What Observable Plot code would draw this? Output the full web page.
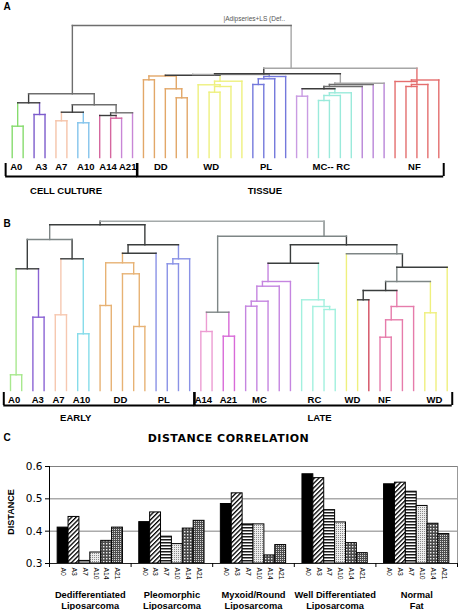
<!DOCTYPE html>
<html><head><meta charset="utf-8">
<script src="https://cdn.jsdelivr.net/npm/d3@7"></script>
<script src="https://cdn.jsdelivr.net/npm/@observablehq/plot@0.6"></script>
<style>body{margin:0;background:#fff;} #root svg{display:block;}</style>
</head><body><div id="root"></div>
<script>
// ---------- Panel A data ----------
const leafGroupsA = ["A0","A0","A3","A3","A7","A7","A10","A10","A14","A14","A21","A21",
  "DD","DD","DD","DD","DD","WD","WD","WD","WD","WD","PL","PL","PL","PL",
  "MC","MC","RC","RC","RC","RC","MCx","MCx","MCx","NF","NF","NF","NF","NF"];
const paletteA = {A0:"#86dc6e",A3:"#7d5ccc",A7:"#f5c4aa",A10:"#84c4ec",A14:"#d5679f",A21:"#c886d6",
  DD:"#e2a768",WD:"#eef07e",PL:"#7479dc",MC:"#c99be2",RC:"#9aeadb",MCx:"#b985d8",NF:"#e46e6e",
  dark:"#3c3c3c",mid:"#6e6e6e",light:"#a6a6a6"};
// node = [height, colour key, left, right]; leaf = leaf index
const treeA = [132,"mid",
  [63.7,"mid",
    [54.7,"dark",[31.3,"A0",0,1],[43,"A3",2,3]],
    [52.7,"mid",
      [45.3,"dark",[36.7,"A7",4,5],[34.7,"A10",6,7]],
      [44.7,"mid",[42,"dark",8,[39.3,"A14",9,10]],11]]],
  [89.3,"light",
    [83.7,"dark",
      [83,"light",
        [82.3,"dark",
          [81.5,"DD",[77.7,"DD",12,13],[68.7,"DD",14,[59.7,"DD",15,16]]],
          [76.3,"WD",[72.7,"WD",17,[71,"WD",[65.3,"WD",18,19],20]],21]],
        [81,"PL",[78.7,"PL",[73,"PL",22,23],24],25]],
      [74.3,"light",[73,"mid",[71,"mid",
          [68.7,"dark",[61.3,"MC",26,27],[64.7,"RC",[62,"RC",[57,"RC",28,29],30],31]],
          32],33],34]],
    [77.5,"NF",[76,"NF",35,[73,"NF",[71,"NF",36,37],38]],39]]];
const leafLabelsA = ["A0","A3","A7","A10","A14","A21","DD","WD","PL","MC-- RC","NF"];
const leafLabelPosA = [0.37,2.66,4.49,6.73,8.76,10.56,13.58,18.2,23.2,29.17,36.77];
const bracketsA = [{label:"CELL CULTURE",from:0,to:11,at:4.92},{label:"TISSUE",from:12,to:39,at:23.1}];

// ---------- Panel B data ----------
const leafGroupsB = ["A0","A0","A3","A3","A7","A7","A10","A10","DD","DD","DD","DD","DD",
  "PL","PL","PL","PL","A14","A14","A21","A21","MC","MC","MC","MC","MC",
  "RC","RC","RC","RC","WD","WD","NFr","NF","NF","NF","NF","WD","WD","WD"];
const paletteB = {A0:"#a8e88e",A3:"#8b63d4",A7:"#f6c8b0",A10:"#86dcea",DD:"#e7b274",PL:"#8a92e6",
  A14:"#ec9cd2",A21:"#d86ad8",MC:"#c585e0",RC:"#a2f0de",WD:"#eff07e",NFr:"#d24c60",NF:"#e67cab",
  dark:"#3a3d3d",mid:"#7e8686",light:"#a4aaaa"};
const treeB = [169.3,"light",
  [165.7,"dark",
    [151,"mid",
      [121.7,"dark",[15.7,"A0",0,1],[73.3,"A3",2,3]],
      [131.7,"dark",[75.7,"A7",4,5],[56.7,"A10",6,7]]],
    [145.7,"dark",
      [137.3,"dark",
        [127.7,"DD",[85,"DD",8,9],[116.7,"DD",10,[64,"DD",11,12]]],
        13],
      [131.7,"PL",[126.7,"PL",14,15],16]]],
  [154.3,"mid",
    [78.3,"mid",[59,"A14",17,18],[54.3,"A21",19,20]],
    [145.7,"dark",
      [127.3,"dark",
        [109,"MC",[104.3,"MC",[89.3,"MC",[84.3,"MC",21,22],23],24],25],
        [90.7,"RC",26,[84,"RC",27,[81,"RC",28,29]]]],
      [136.7,"mid",30,
        [123.3,"dark",
          [109,"mid",
            [100,"dark",[90.7,"dark",31,32],[84,"NF",[70.7,"NF",[53.3,"NF",33,34],35],36]],
            [77.7,"WD",37,38]],
          39]]]]];
const leafLabelsB = ["A0","A3","A7","A10","DD","PL","A14","A21","MC","RC","WD","NF","WD"];
const leafLabelPosB = [0.33,2.43,4.29,6.34,9.82,13.69,17.23,19.46,22.23,27.14,30.54,33.39,37.86];
const bracketsB = [{label:"EARLY",from:0,to:16,at:5.83},{label:"LATE",from:17,to:39,at:27.6}];

// ---------- Panel C data ----------
const groupsC = ["Dedifferentiated\nLiposarcoma","Pleomorphic\nLiposarcoma","Myxoid/Round\nLiposarcoma","Well Differentiated\nLiposarcoma","Normal\nFat"];
const seriesC = ["A0","A3","A7","A10","A14","A21"];
const valuesDD = [0.411,0.444,0.308,0.334,0.370,0.411];
const valuesPL = [0.428,0.458,0.383,0.360,0.408,0.432];
const valuesMR = [0.484,0.517,0.421,0.421,0.325,0.357];
const valuesWD = [0.576,0.564,0.465,0.427,0.363,0.332];
const valuesNF = [0.545,0.550,0.522,0.478,0.423,0.391];
const yTicksC = [0.3,0.4,0.5,0.6];

// ---------- helpers ----------
const FONT = "'Liberation Sans', Arial, sans-serif";
function segments(tree, groups, palette) {
  const segs = [];
  function walk(node) {
    if (typeof node === "number") return {x: node, sum: node, n: 1, h: 0, color: palette[groups[node]]};
    const [h, key, a, b] = node;
    const L = walk(a), R = walk(b);
    const color = palette[key];
    segs.push({x1: L.x, x2: L.x, y1: L.h, y2: h, color: L.color});
    segs.push({x1: R.x, x2: R.x, y1: R.h, y2: h, color: R.color});
    segs.push({x1: L.x, x2: R.x, y1: h, y2: h, color});
    const sum = L.sum + R.sum, n = L.n + R.n;
    return {x: sum / n, sum, n, h, color};
  }
  walk(tree);
  return segs;
}

function dendro({tree, groups, palette, labels, labelPos, brackets, height, xRange, yRange, yTop,
                 letter, letterDy, bracketY, bracketTop, labelDy, titleY, extra = []}) {
  const segs = segments(tree, groups, palette);
  const ends = brackets.flatMap(d => [d.from - 0.6, d.to + 0.45]);
  return Plot.plot({
    width: 458, height, margin: 0,
    x: {domain: [0, groups.length - 1], range: xRange, axis: null},
    y: {domain: [0, yTop], range: yRange, axis: null},
    color: {type: "identity"},
    style: {fontFamily: FONT, background: "white", color: "black"},
    marks: [
      Plot.link(segs, {x1: "x1", y1: "y1", x2: "x2", y2: "y2", stroke: "color", strokeWidth: 1.4, strokeLinecap: "square"}),
      Plot.text(labels, {x: (d, i) => labelPos[i], y: 0, dy: labelDy, text: d => d, fontWeight: "bold", fontSize: 9.5}),
      Plot.ruleY(brackets, {x1: d => d.from - 0.6, x2: d => d.to + 0.45, y: bracketY, stroke: "black", strokeWidth: 2}),
      Plot.ruleX(ends, {x: d => d, y1: bracketTop, y2: bracketY, stroke: "black", strokeWidth: 2}),
      Plot.text(brackets, {x: "at", y: titleY, text: "label", fontWeight: "bold", fontSize: 9.5}),
      Plot.text([letter], {frameAnchor: "top-left", dx: 3, dy: letterDy, text: d => d, fontWeight: "bold", fontSize: 10}),
      ...extra
    ]
  });
}

const root = document.getElementById("root");

const plotA = dendro({
  tree: treeA, groups: leafGroupsA, palette: paletteA, labels: leafLabelsA, labelPos: leafLabelPosA,
  brackets: bracketsA, height: 200, xRange: [11.7, 438.3], yRange: [157, 25], yTop: 132,
  letter: "A", letterDy: 2, bracketY: -19, bracketTop: -6, labelDy: 9, titleY: -33,
  extra: [Plot.text(["|Adipseries+LS (Def.."], {frameAnchor: "top-left", dx: 223, dy: 16, text: d => d, fontSize: 6.5, fill: "#555"})]
});
root.appendChild(plotA);

const plotB = dendro({
  tree: treeB, groups: leafGroupsB, palette: paletteB, labels: leafLabelsB, labelPos: leafLabelPosB,
  brackets: bracketsB, height: 225, xRange: [10, 446.7], yRange: [190, 20.7], yTop: 169.3,
  letter: "B", letterDy: 19, bracketY: -15, bracketTop: -2, labelDy: 9, titleY: -27
});
root.appendChild(plotB);

// ---------- Panel C ----------
const valuesC = [valuesDD, valuesPL, valuesMR, valuesWD, valuesNF];
const bars = groupsC.flatMap((g, gi) => seriesC.map((s, si) => ({group: g, gi, series: s, si, value: valuesC[gi][si]})));
const barW = 0.8 / seriesC.length;
const x1 = d => d.gi + 0.1 + d.si * barW;
const fills = {A0: "black", A3: "url(#pA3)", A7: "url(#pA7)", A10: "url(#pA10)", A14: "url(#pA14)", A21: "url(#pA21)"};

const plotC = Plot.plot({
  width: 458, height: 185, marginTop: 41, marginBottom: 47, marginLeft: 49, marginRight: 1,
  x: {domain: [0, groupsC.length], axis: null},
  y: {domain: [0.3, 0.6], axis: null},
  color: {type: "identity"},
  style: {fontFamily: FONT, background: "white", color: "black"},
  marks: [
    Plot.ruleY([0.4, 0.5, 0.6], {stroke: "#808080", strokeWidth: 1}),
    Plot.ruleX([groupsC.length], {stroke: "#999"}),
    Plot.rectY(bars, {x1, x2: d => x1(d) + barW, y1: 0.3, y2: "value", fill: d => fills[d.series], stroke: "black", strokeWidth: 1}),
    Plot.ruleY([0.3], {stroke: "#222"}),
    Plot.ruleX([0], {stroke: "black"}),
    Plot.axisY({ticks: yTicksC, tickFormat: d3.format(".1f"), tickSize: 4, tickPadding: 3, fontSize: 10.5, fontFamily: "'DejaVu Sans', sans-serif", label: null}),
    Plot.axisX({ticks: d3.range(groupsC.length + 1), tickSize: 4, tickFormat: () => "", label: null}),
    Plot.text(bars, {x: d => x1(d) + barW / 2, y: 0.3, dy: 4, text: "series", rotate: 90, textAnchor: "start", fontSize: 6.8}),
    Plot.text(groupsC, {x: (d, i) => i + 0.5, y: 0.3, dy: 36, text: d => d, fontWeight: "bold", fontSize: 9.3, lineHeight: 1.2}),
    Plot.text(["DISTANCE"], {frameAnchor: "left", dx: -38, dy: -3, rotate: -90, textAnchor: "middle", lineAnchor: "middle", text: d => d, fontWeight: "bold", fontSize: 9}),
    Plot.text(["DISTANCE CORRELATION"], {frameAnchor: "top", dx: -25, dy: -28, lineAnchor: "middle", textAnchor: "middle", text: d => d, fontWeight: "bold", fontSize: 11, fontFamily: "'DejaVu Sans', sans-serif"}),
    Plot.text(["C"], {frameAnchor: "top-left", dx: -46, dy: -33, text: d => d, fontWeight: "bold", fontSize: 10})
  ]
});

// fill patterns for the bars
const defs = d3.select(plotC).insert("defs", ":first-child");
function pattern(id, w, h, bg, rects, transform) {
  const p = defs.append("pattern").attr("id", id).attr("width", w).attr("height", h).attr("patternUnits", "userSpaceOnUse");
  if (transform) p.attr("patternTransform", transform);
  p.append("rect").attr("width", w).attr("height", h).attr("fill", bg);
  rects.forEach(([rx, ry, rw, rh, c]) => p.append("rect").attr("x", rx).attr("y", ry).attr("width", rw).attr("height", rh).attr("fill", c));
}
pattern("pA3", 3.2, 3.2, "white", [[0, 0, 1.3, 3.2, "black"]], "rotate(45)");
pattern("pA7", 3, 3, "white", [[0, 0, 3, 1.5, "#1a1a1a"]]);
pattern("pA10", 2, 2, "#ececec", [[0, 0, 1, 1, "#8a8a8a"]]);
pattern("pA14", 3, 3, "#4a4a4a", [[1, 1, 1.4, 1.4, "#f0f0f0"]]);
pattern("pA21", 2, 2, "#4e4e4e", [[0, 0, 1, 1, "#d8d8d8"]]);
d3.select(plotC).selectAll("text").filter(function() { return this.textContent === "DISTANCE CORRELATION"; }).style("letter-spacing", "0.5px");
root.appendChild(plotC);
</script></body></html>
